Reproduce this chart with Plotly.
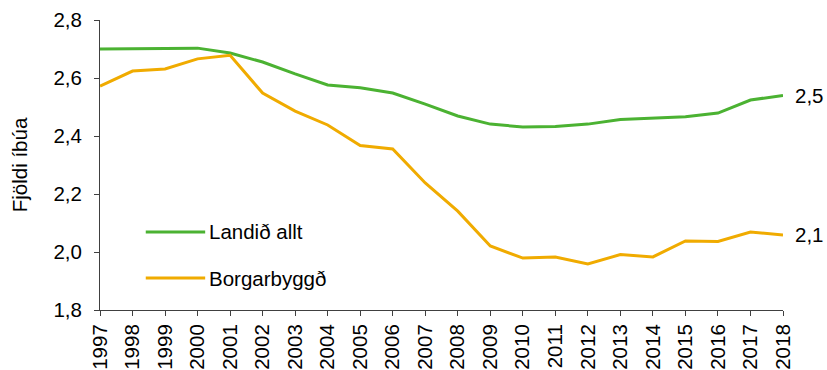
import plotly.graph_objects as go

# Meðalfjöldi íbúa á íbúð, 1997-2018
years = list(range(1997, 2019))
landid_allt = [2.700, 2.701, 2.701, 2.703, 2.686, 2.655, 2.614, 2.576, 2.566, 2.548,
               2.510, 2.469, 2.441, 2.431, 2.433, 2.441, 2.457, 2.462, 2.466, 2.479,
               2.524, 2.540]
borgarbyggd = [2.572, 2.624, 2.631, 2.666, 2.678, 2.548, 2.486, 2.438, 2.367, 2.355,
               2.238, 2.141, 2.021, 1.979, 1.983, 1.959, 1.991, 1.983, 2.038, 2.036,
               2.069, 2.059]
series_names = ["Landið allt", "Borgarbyggð"]
series_colors = ["#4bb232", "#f0ab00"]
y_ticks = [1.8, 2.0, 2.2, 2.4, 2.6, 2.8]

FONT = "Liberation Sans, Arial, sans-serif"
FS = 20.5

fig = go.Figure()
for name, vals, col in zip(series_names, [landid_allt, borgarbyggd], series_colors):
    fig.add_trace(go.Scatter(x=years, y=vals, mode="lines", name=name,
                             line=dict(color=col, width=3), showlegend=False))
    # value label at the end of each line
    fig.add_annotation(x=years[-1], y=vals[-1], text=f"{vals[-1]:.1f}".replace(".", ","),
                       xanchor="left", yanchor="middle", xshift=10, showarrow=False,
                       font=dict(family=FONT, size=FS, color="black"))

# hand-drawn legend inside the plot area
legend_y = [0.269, 0.110]
for name, col, ly in zip(series_names, series_colors, legend_y):
    fig.add_shape(type="line", xref="paper", yref="paper", x0=0.067, x1=0.154, y0=ly, y1=ly,
                  line=dict(color=col, width=3))
    fig.add_annotation(xref="paper", yref="paper", x=0.156, y=ly, text=name,
                       xanchor="left", yanchor="middle", showarrow=False,
                       font=dict(family=FONT, size=FS, color="black"))

fig.update_layout(
    width=827, height=370,
    margin=dict(l=100, r=44, t=20, b=60),
    paper_bgcolor="white", plot_bgcolor="white",
    font=dict(family=FONT, size=FS, color="black"),
)
fig.update_xaxes(range=[1997, 2018], tickmode="array", tickvals=years,
                 ticktext=[str(y) for y in years], tickangle=-90, automargin=False,
                 showgrid=False, zeroline=False, showline=True, linecolor="#404040",
                 linewidth=1, ticks="outside", ticklen=5, tickcolor="#404040",
                 tickfont=dict(family=FONT, size=FS, color="black"))
fig.update_yaxes(range=[1.8, 2.8], tickmode="array", tickvals=y_ticks, automargin=False,
                 ticktext=[f"{v:.1f}".replace(".", ",") for v in y_ticks],
                 ticklabelstandoff=8,
                 showgrid=False, zeroline=False, showline=True, linecolor="#404040",
                 linewidth=1, ticks="outside", ticklen=5, tickcolor="#404040",
                 tickfont=dict(family=FONT, size=FS, color="black"),
                 title=dict(text="Fjöldi íbúa", standoff=20,
                            font=dict(family=FONT, size=FS, color="black")))

fig.write_html("out.html")
